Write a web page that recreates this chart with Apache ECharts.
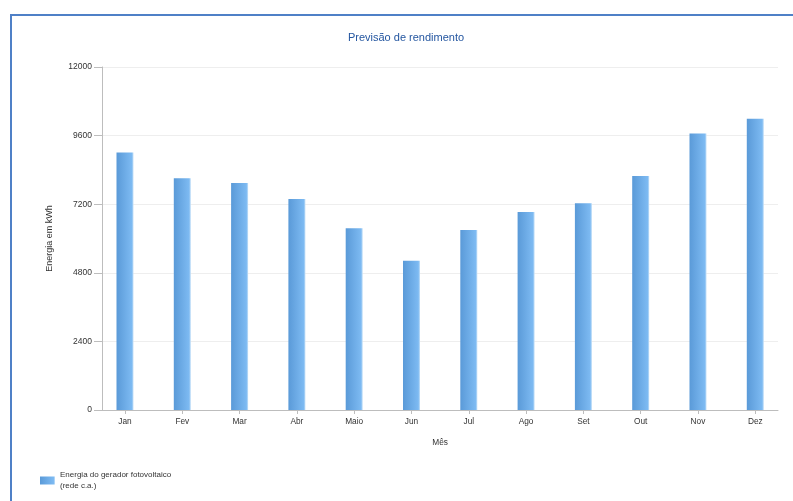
<!DOCTYPE html>
<html>
<head>
<meta charset="utf-8">
<script src="https://cdn.jsdelivr.net/npm/echarts@6/dist/echarts.min.js"></script>
<style>
  html, body { margin: 0; padding: 0; background: #fff; }
  #chart { width: 793px; height: 501px; }
</style>
</head>
<body>
<div id="chart"></div>
<script>
// Monthly PV yield forecast
const months = ['Jan', 'Fev', 'Mar', 'Abr', 'Maio', 'Jun', 'Jul', 'Ago', 'Set', 'Out', 'Nov', 'Dez'];
const energyKWh = [9010, 8110, 7940, 7380, 6360, 5220, 6300, 6930, 7230, 8190, 9670, 10190];
const yTicks = [0, 2400, 4800, 7200, 9600, 12000];
const seriesName = 'Energia do gerador fotovoltaico\n(rede c.a.)';

const FONT = 'Liberation Sans';
const yMax = yTicks[yTicks.length - 1];
const yStep = yTicks[1] - yTicks[0];

const chart = echarts.init(document.getElementById('chart'), null, { renderer: 'canvas' });

chart.setOption({
  backgroundColor: '#ffffff',
  animation: false,
  textStyle: { fontFamily: FONT },
  title: {
    text: 'Previsão de rendimento',
    left: 401, top: 27,
    textAlign: 'center',
    textStyle: { color: '#2456a0', fontSize: 11, fontWeight: 'normal', fontFamily: FONT }
  },
  legend: {
    left: 40, top: 469.5,
    padding: 0,
    orient: 'vertical',
    itemWidth: 15, itemHeight: 8,
    icon: 'rect',
    textStyle: { color: '#333', fontSize: 8, fontFamily: FONT, lineHeight: 11 },
    data: [seriesName]
  },
  graphic: [{
    type: 'rect',
    shape: { x: 11, y: 15, width: 820, height: 620 },
    style: { fill: 'none', stroke: '#4f80c7', lineWidth: 2 },
    silent: true
  }],
  grid: [
    // frame: axis lines, y labels, gridlines
    { left: 102, right: 15, top: 67, bottom: 91 },
    // bars and month labels
    { left: 96.35, right: 9.05, top: 67, bottom: 91 }
  ],
  xAxis: [
    {
      gridIndex: 0, type: 'value', min: 0, max: 1,
      axisLine: { show: true, lineStyle: { color: '#bdbdbd' } },
      axisTick: { show: false }, axisLabel: { show: false }, splitLine: { show: false }
    },
    {
      gridIndex: 1, type: 'category', data: months,
      name: 'Mês', nameLocation: 'middle', nameGap: 29,
      nameTextStyle: { color: '#333', fontSize: 8.3, fontFamily: FONT },
      axisLine: { show: false },
      axisTick: { show: true, alignWithLabel: true, length: 4, lineStyle: { color: '#bdbdbd' } },
      axisLabel: { color: '#333', fontSize: 8.3, margin: 8, fontFamily: FONT },
      splitLine: { show: false }
    }
  ],
  yAxis: [
    {
      gridIndex: 0, type: 'value', min: 0, max: yMax, interval: yStep,
      name: 'Energia em kWh', nameLocation: 'middle', nameGap: 48, nameRotate: 90,
      nameTextStyle: { color: '#333', fontSize: 9, fontFamily: FONT },
      axisLine: { show: true, lineStyle: { color: '#bdbdbd' } },
      axisTick: { show: true, length: 8, lineStyle: { color: '#bdbdbd' } },
      axisLabel: { color: '#333', fontSize: 8.5, margin: 10, fontFamily: FONT, formatter: v => String(v) },
      splitLine: { show: true, lineStyle: { color: '#eeeeee' } }
    },
    {
      gridIndex: 1, type: 'value', min: 0, max: yMax, interval: yStep,
      axisLine: { show: false }, axisTick: { show: false },
      axisLabel: { show: false }, splitLine: { show: false }
    }
  ],
  series: [{
    name: seriesName,
    type: 'bar',
    xAxisIndex: 1, yAxisIndex: 1,
    barWidth: 17,
    data: energyKWh,
    itemStyle: {
      color: new echarts.graphic.LinearGradient(0, 0, 1, 0, [
        { offset: 0, color: '#5a9ad8' },
        { offset: 0.9, color: '#7dbaf2' },
        { offset: 1, color: '#c6e1f8' }
      ]),
      borderWidth: 0
    }
  }]
});
</script>
</body>
</html>
